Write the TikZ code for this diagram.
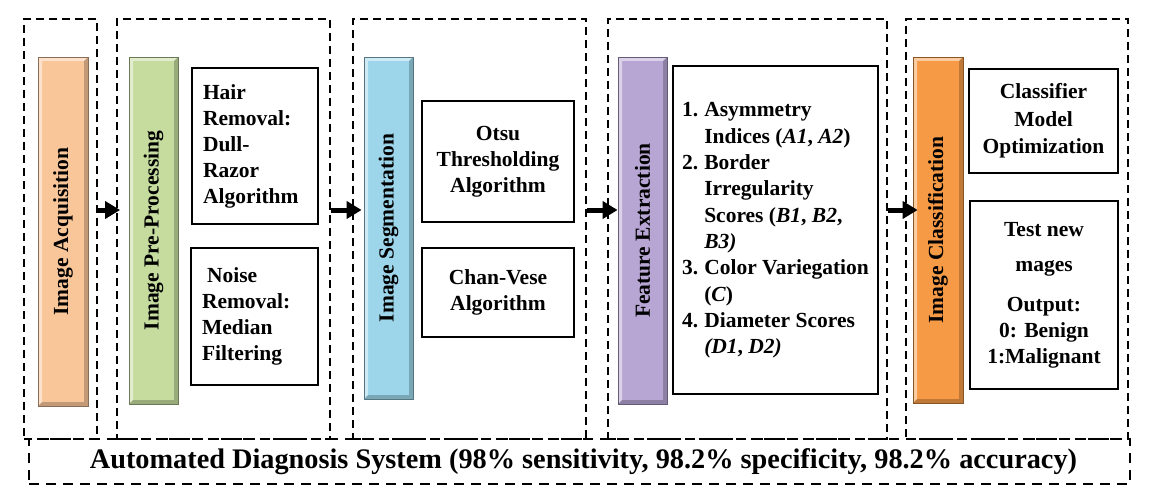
\documentclass[tikz,border=0pt]{standalone}
\usepackage{fontspec}
\setmainfont{Liberation Serif}
\usetikzlibrary{arrows.meta}
\definecolor{acqpeach}{HTML}{F9C69A}
\definecolor{pregreen}{HTML}{C5DC9E}
\definecolor{segblue}{HTML}{9DD6EA}
\definecolor{featpurple}{HTML}{B7A5D3}
\definecolor{clsorange}{HTML}{F79A46}
\tikzset{
  group/.style={draw, line width=1.8pt, dash pattern=on 8pt off 5pt, inner sep=0pt},
  bar/.style={fill=#1, draw=#1!55!black, line width=.8pt, inner sep=0pt,
    font=\fontsize{21.5}{26}\selectfont\bfseries,
    path picture={
      \path (path picture bounding box.south west) coordinate (bsw)
            (path picture bounding box.north east) coordinate (bne);
      \fill[white,opacity=.5] (bsw) -- ([shift={(4pt,4pt)}]bsw) |- ([shift={(-4pt,-4pt)}]bne) -- (bne) -| (bsw) -- cycle;
      \fill[black,opacity=.22] (bne) -- ([shift={(-4pt,-4pt)}]bne) |- ([shift={(4pt,4pt)}]bsw) -- (bsw) -| (bne) -- cycle;
    }},
  proc/.style={draw, line width=1.6pt, inner sep=0pt, align=center,
    font=\fontsize{21.5}{26}\selectfont\bfseries},
  flow/.style={-{Triangle[length=15pt,width=17pt]}, line width=5pt}
}
\begin{document}
\begin{tikzpicture}[x=1pt,y=-1pt]
\useasboundingbox (0,0) rectangle (1150,503);
\coordinate (ay) at (0,210);
% dashed stages
\node[group, minimum width=73pt, minimum height=420pt] (acqgrp) at (60.5,229) {};
\node[group, minimum width=213pt, minimum height=420pt] (pregrp) at (223.5,229) {};
\node[group, minimum width=233pt, minimum height=420pt] (seggrp) at (469.5,229) {};
\node[group, minimum width=279pt, minimum height=420pt] (featgrp) at (747.5,229) {};
\node[group, minimum width=222pt, minimum height=420pt] (clsgrp) at (1017,229) {};
\node[group, dash pattern=on 10pt off 7pt, minimum width=1101pt, minimum height=45pt,
  font=\fontsize{28.3}{32}\selectfont\bfseries] (sys) at (579.5,461.5)
  {\hspace{8pt}Automated Diagnosis System (98\% sensitivity, 98.2\% specificity, 98.2\% accuracy)};
% bars
\node[bar=acqpeach, minimum width=50pt, minimum height=349pt] (acq) at (63,231.5) {\rotatebox{90}{Image Acquisition}};
\node[bar=pregreen, minimum width=49pt, minimum height=347pt] (pre) at (153.5,230.5) {\rotatebox{90}{Image Pre-Processing}};
\node[bar=segblue, minimum width=49pt, minimum height=342pt] (seg) at (388.5,228) {\rotatebox{90}{Image Segmentation}};
\node[bar=featpurple, minimum width=49pt, minimum height=347pt] (fe) at (642.5,230.5) {\rotatebox{90}{Feature Extraction}};
\node[bar=clsorange, minimum width=50pt, minimum height=346pt] (cls) at (938,230) {\rotatebox{90}{Image Classification}};
% boxes
\node[proc, align=left, text width=104pt, minimum width=126pt, minimum height=156pt] (hair) at (255,146)
  {Hair\\Removal:\\Dull-\\Razor\\Algorithm};
\node[proc, align=left, text width=105pt, minimum width=127pt, minimum height=137pt] (noise) at (254.5,316.5)
  {\hspace{5pt}Noise\\Removal:\\Median\\Filtering};
\node[proc, minimum width=152pt, minimum height=121pt] (otsu) at (498,161.5) {Otsu\\Thresholding\\Algorithm};
\node[proc, minimum width=152pt, minimum height=89pt] (chan) at (498,292.5) {Chan-Vese\\Algorithm};
\node[draw, line width=1.6pt, inner sep=0pt, minimum width=205pt, minimum height=328pt,
  font=\fontsize{21.5}{26.3}\selectfont\bfseries] (featlist) at (775.5,230)
  {\begin{tabular}{@{}l@{\hspace{6pt}}l@{}}
   1.&Asymmetry\\&Indices (\textit{A1}, \textit{A2})\\
   2.&Border\\&Irregularity\\&Scores (\textit{B1}, \textit{B2},\\&\textit{B3)}\\
   3.&Color Variegation\\&(\textit{C})\\
   4.&Diameter Scores\\&\textit{(D1}, \textit{D2)}
   \end{tabular}};
\node[proc, font=\fontsize{21.5}{27.5}\selectfont\bfseries, minimum width=149pt, minimum height=104pt] (clsopt) at (1043.5,121)
  {Classifier\\Model\\Optimization};
\node[proc, minimum width=148pt, minimum height=188pt] (test) at (1044,295)
  {Test new\\[9pt]mages\\[14pt]Output:\\0: Benign\\1:Malignant};
% arrows
\draw[flow, shorten >=-4pt] (acqgrp.east |- ay) -- (pregrp.west |- ay);
\draw[flow, shorten >=2pt] (pregrp.east |- ay) -- (seg.west |- ay);
\draw[flow] (seggrp.east |- ay) -- (fe.west |- ay);
\draw[flow, shorten >=-5pt] (featgrp.east |- ay) -- (cls.west |- ay);
\end{tikzpicture}
\end{document}
